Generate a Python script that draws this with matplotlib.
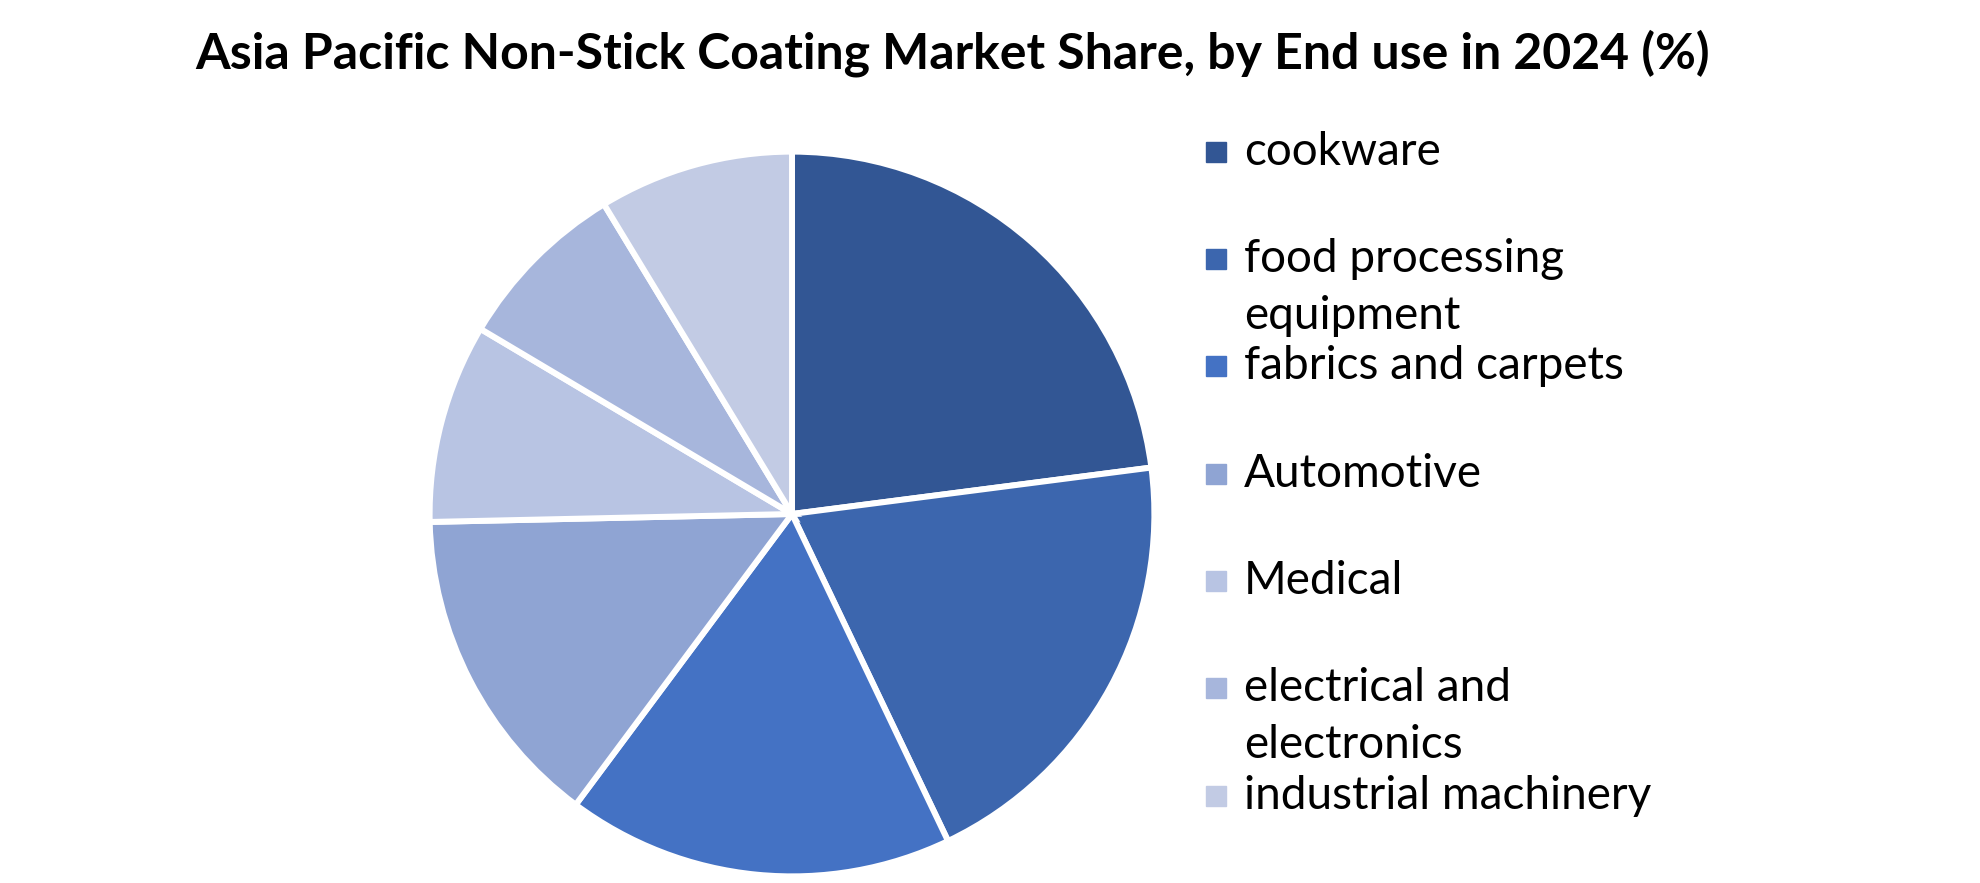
import matplotlib
matplotlib.use('Agg')
import matplotlib.pyplot as plt
from matplotlib.patches import Rectangle

# data (shares in %, clockwise from 12 o'clock)
categories = ["cookware", "food processing\nequipment", "fabrics and carpets", "Automotive",
              "Medical", "electrical and\nelectronics", "industrial machinery"]
shares = [23.0, 20.0, 17.3, 14.5, 8.9, 7.8, 8.7]
colors = ["#325694", "#3C66AE", "#4472C4", "#8FA4D3", "#B8C4E3", "#A7B6DC", "#C2CBE4"]

W, H = 1980, 883
fig = plt.figure(figsize=(W / 100, H / 100), dpi=100)
plt.rcParams['font.family'] = ['Lato', 'DejaVu Sans']

cx, cy, r = 792, 514, 366
ax = fig.add_axes([(cx - r) / W, (H - cy - r) / H, 2 * r / W, 2 * r / H])
ax.pie(shares, colors=colors, startangle=90, counterclock=False, radius=1,
       wedgeprops=dict(edgecolor="white", linewidth=4.3))
ax.set_xlim(-1.01, 1.01)
ax.set_ylim(-1.01, 1.01)
ax.set_aspect('equal')
ax.axis('off')

fig.text(953 / W, 1 - 53 / H, "Asia Pacific Non-Stick Coating Market Share, by End use in 2024 (%)",
         ha='center', va='center', fontsize=36, fontweight='bold')

# legend drawn by hand to mimic the wrapped entries
legend_y = [152, 259, 366, 474, 581, 688, 796]
line_gap = 57
for name, col, y in zip(categories, colors, legend_y):
    fig.patches.append(Rectangle(((1206) / W, 1 - (y + 10) / H), 20 / W, 20 / H,
                                 transform=fig.transFigure, color=col))
    for i, part in enumerate(name.split("\n")):
        fig.text(1244 / W, 1 - (y + i * line_gap) / H, part, ha='left', va='center',
                 fontsize=33)

fig.savefig("out.png", dpi=100, facecolor="white")
